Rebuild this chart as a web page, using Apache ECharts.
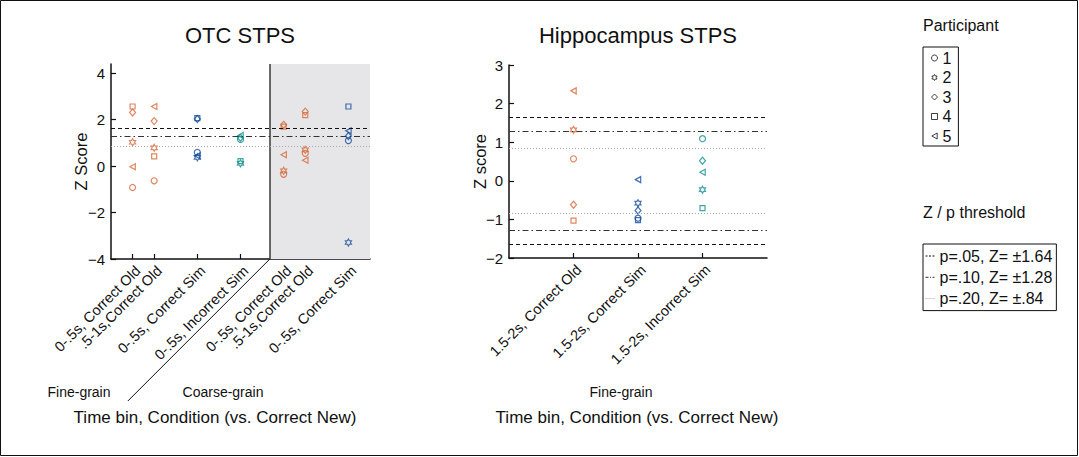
<!DOCTYPE html>
<html><head><meta charset="utf-8">
<script src="https://cdn.jsdelivr.net/npm/echarts@6/dist/echarts.min.js"></script>
<style>html,body{margin:0;padding:0;background:#fff}#c{width:1079px;height:457px}</style>
</head><body><div id="c"></div>
<script>
// ---------- DATA ----------
const otcLabels = ['0-.5s, Correct Old', '.5-1s,Correct Old', '0-.5s, Correct Sim', '0-.5s, Incorrect Sim', '0-.5s, Correct Old', '.5-1s,Correct Old', '0-.5s, Correct Sim'];
const otcConditions = ['Correct Old', 'Correct Old', 'Correct Sim', 'Incorrect Sim', 'Correct Old', 'Correct Old', 'Correct Sim'];
const otcXPos = [1, 1.5, 2.5, 3.5, 4.5, 5, 6];
const otcP1 = [-0.92, -0.63, 0.59, 1.15, -0.35, 0.55, 1.10];
const otcP2 = [1.03, 0.79, 0.38, 0.12, -0.20, 0.70, -3.29];
const otcP3 = [2.31, 1.94, 2.03, 1.22, 1.78, 2.35, 1.30];
const otcP4 = [2.57, 0.42, 2.07, 0.22, 1.70, 2.20, 2.57];
const otcP5 = [-0.03, 2.57, 0.45, 1.32, 0.49, 0.25, 1.52];

const hipLabels = ['1.5-2s, Correct Old', '1.5-2s, Correct Sim', '1.5-2s, Incorrect Sim'];
const hipConditions = ['Correct Old', 'Correct Sim', 'Incorrect Sim'];
const hipXPos = [1, 2, 3];
const hipP1 = [0.57, -0.97, 1.09];
const hipP2 = [1.32, -0.58, -0.23];
const hipP3 = [-0.62, -0.77, 0.52];
const hipP4 = [-1.03, -1.02, -0.71];
const hipP5 = [2.33, 0.03, 0.22];

const participants = ['1', '2', '3', '4', '5'];
const thresholdZ = [1.64, 1.28, 0.84];
const thresholdNames = ['p=.05, Z= \u00b11.64', 'p=.10, Z= \u00b11.28', 'p=.20, Z= \u00b1.84'];
const otcYTicks = [-4, -2, 0, 2, 4];

// ---------- STYLE ----------
const F = "'Liberation Sans', Arial, Helvetica, sans-serif";
const condColor = { 'Correct Old': '#d6693a', 'Correct Sim': '#174d9e', 'Incorrect Sim': '#14908f' };
const symbols = [
  'circle',
  'path://M5,0L6.44,2.5L9.33,2.5L7.89,5L9.33,7.5L6.44,7.5L5,10L3.56,7.5L0.67,7.5L2.11,5L0.67,2.5L3.56,2.5Z',
  'diamond',
  'rect',
  'path://M0,5L9,0L9,10Z'
];
const symSizes = [6, 7, [6, 7], 5, 6];
const thrStyles = [
  { color: '#111', width: 1, type: [4, 3] },
  { color: '#333', width: 1, type: [6, 3, 1.5, 3] },
  { color: '#a8a8a8', width: 1, type: [1, 2] }
];
const thrLegendDash = [[2, 1.5], [3, 1.5, 1, 1.5], [1, 1]];
const coarseStart = 4.18;
const minus = v => String(v).replace('-', '\u2212');

const otcVals = [otcP1, otcP2, otcP3, otcP4, otcP5];
const hipVals = [hipP1, hipP2, hipP3, hipP4, hipP5];

const axisCommon = {
  axisLine: { show: true, onZero: false, lineStyle: { color: '#111', width: 1.5 } },
  axisTick: { show: true, inside: true, length: 5, lineStyle: { color: '#111', width: 1.2 } },
  splitLine: { show: false },
  axisLabel: { color: '#111', fontFamily: F, fontSize: 15 }
};

const chart = echarts.init(document.getElementById('c'), null, { renderer: 'svg' });

const series = [];
series.push({
  type: 'scatter', xAxisIndex: 0, yAxisIndex: 0, data: [], z: 1, silent: true,
  markArea: { silent: true, itemStyle: { color: '#e6e6e8' }, data: [[{ xAxis: coarseStart }, { xAxis: 6.5 }]] },
  markLine: { silent: true, symbol: 'none', label: { show: false }, emphasis: { disabled: true },
    lineStyle: { color: '#3a3a3a', width: 1.5, type: 'solid' }, data: [{ xAxis: coarseStart }] }
});
thresholdZ.forEach((z, k) => {
  const st = thrStyles[k];
  series.push({
    type: 'line', name: thresholdNames[k], xAxisIndex: 0, yAxisIndex: 0, data: [], symbol: 'none', z: 2,
    lineStyle: st, itemStyle: { color: st.color },
    markLine: { silent: true, symbol: 'none', label: { show: false }, emphasis: { disabled: true }, lineStyle: st, data: [{ yAxis: z }] }
  });
  series.push({
    type: 'line', name: thresholdNames[k], xAxisIndex: 1, yAxisIndex: 1, data: [], symbol: 'none', z: 2,
    lineStyle: st, itemStyle: { color: st.color },
    markLine: { silent: true, symbol: 'none', label: { show: false }, emphasis: { disabled: true }, lineStyle: st, data: [{ yAxis: z }, { yAxis: -z }] }
  });
});
participants.forEach((p, k) => {
  const base = {
    type: 'scatter', name: p, symbol: symbols[k], symbolSize: symSizes[k], z: 3,
    symbolKeepAspect: true,
    emphasis: { disabled: true },
    itemStyle: { color: 'rgba(255,255,255,0)', borderWidth: 1.2, borderColor: '#000' }
  };
  series.push(Object.assign({}, base, {
    xAxisIndex: 0, yAxisIndex: 0,
    data: otcXPos.map((x, i) => ({ value: [x, otcVals[k][i]], itemStyle: { borderColor: condColor[otcConditions[i]] } }))
  }));
  series.push(Object.assign({}, base, {
    xAxisIndex: 1, yAxisIndex: 1,
    data: hipXPos.map((x, i) => ({ value: [x, hipVals[k][i]], itemStyle: { borderColor: condColor[hipConditions[i]] } }))
  }));
});

const txt = (text, x, y, size, align) => ({
  type: 'text', x: x, y: y, silent: true,
  style: { text: text, fontFamily: F, fontSize: size, fill: '#111', align: align || 'center', verticalAlign: 'middle' }
});

const xLabelCommon = Object.assign({}, axisCommon.axisLabel, { fontSize: 14.5, rotate: 45, margin: 4, verticalAlign: 'top', align: 'right' });

const option = {
  animation: false,
  backgroundColor: '#fff',
  grid: [
    { left: 111, right: 709, top: 64, bottom: 198 },
    { left: 509, right: 312, top: 65, bottom: 199 }
  ],
  xAxis: [
    Object.assign({}, axisCommon, {
      type: 'value', gridIndex: 0, min: 0.5, max: 6.5,
      axisTick: Object.assign({}, axisCommon.axisTick, { customValues: otcXPos }),
      axisLabel: Object.assign({}, xLabelCommon, { customValues: otcXPos,
        formatter: v => otcLabels[otcXPos.indexOf(v)] })
    }),
    Object.assign({}, axisCommon, {
      type: 'value', gridIndex: 1, min: 0, max: 4,
      axisTick: Object.assign({}, axisCommon.axisTick, { customValues: hipXPos }),
      axisLabel: Object.assign({}, xLabelCommon, { customValues: hipXPos,
        formatter: v => hipLabels[hipXPos.indexOf(v)] })
    })
  ],
  yAxis: [
    Object.assign({}, axisCommon, {
      type: 'value', gridIndex: 0, min: -4, max: 4.4,
      name: 'Z Score', nameLocation: 'middle', nameGap: 22, nameMoveOverlap: false,
      nameTextStyle: { fontFamily: F, fontSize: 16.5, color: '#111' },
      axisTick: Object.assign({}, axisCommon.axisTick, { customValues: otcYTicks }),
      axisLabel: Object.assign({}, axisCommon.axisLabel, { margin: 6, customValues: otcYTicks, formatter: minus })
    }),
    Object.assign({}, axisCommon, {
      type: 'value', gridIndex: 1, min: -2, max: 3, interval: 1,
      name: 'Z score', nameLocation: 'middle', nameGap: 21, nameMoveOverlap: false,
      nameTextStyle: { fontFamily: F, fontSize: 16.5, color: '#111' },
      axisLabel: Object.assign({}, axisCommon.axisLabel, { margin: 6, formatter: minus })
    })
  ],
  legend: [
    {
      data: participants, orient: 'vertical', left: 923, top: 47, selectedMode: false,
      itemWidth: 6, itemHeight: 6, itemGap: 1.5, padding: [2, 7, 1, 8],
      borderColor: '#111', borderWidth: 1, backgroundColor: '#fff',
      textStyle: { fontFamily: F, fontSize: 16, lineHeight: 18, color: '#111' },
      itemStyle: { color: '#fff', borderColor: '#111', borderWidth: 1 }
    },
    {
      data: thresholdNames.map((n, k) => ({ name: n, lineStyle: { type: thrLegendDash[k], width: 1 } })),
      orient: 'vertical', left: 923, top: 244, selectedMode: false,
      itemWidth: 9, itemHeight: 6, itemGap: 3.3, padding: [3, 4, 3, 2],
      borderColor: '#111', borderWidth: 1, backgroundColor: '#fff',
      textStyle: { fontFamily: F, fontSize: 16, lineHeight: 18, color: '#111' },
      itemStyle: { color: 'rgba(0,0,0,0)', borderWidth: 0, opacity: 0 }
    }
  ],
  series: series,
  graphic: [
    { type: 'rect', silent: true, shape: { x: 0.5, y: 0.5, width: 1077, height: 455 }, style: { fill: 'none', stroke: '#111', lineWidth: 1 } },
    txt('OTC STPS', 240, 35, 22),
    txt('Hippocampus STPS', 638, 35, 22),
    txt('Participant', 923, 25, 16, 'left'),
    txt('Z / p threshold', 923, 212, 16, 'left'),
    txt('Fine-grain', 79, 392, 14),
    txt('Coarse-grain', 223, 392, 14),
    txt('Time bin, Condition (vs. Correct New)', 215, 417, 17),
    txt('Fine-grain', 621, 392, 14),
    txt('Time bin, Condition (vs. Correct New)', 637, 417, 17)
  ]
};
chart.setOption(option);
const divBase = chart.convertToPixel({ gridIndex: 0 }, [coarseStart, -4]);
chart.setOption({ graphic: option.graphic.concat([
  { type: 'line', silent: true, shape: { x1: divBase[0], y1: divBase[1], x2: divBase[0] - 142, y2: divBase[1] + 142 }, style: { stroke: '#111', lineWidth: 1 } }
]) });
</script>
</body></html>
